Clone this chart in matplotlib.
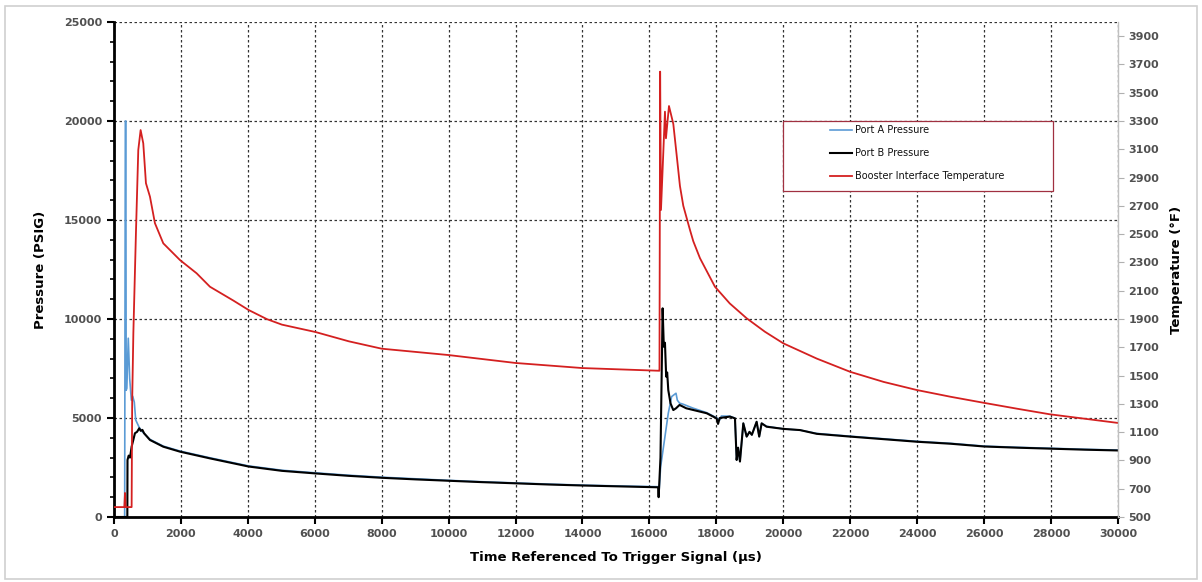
import numpy as np
import matplotlib.pyplot as plt
from matplotlib.ticker import MultipleLocator
from matplotlib.patches import Rectangle

# Port A pressure (psig) vs time (us)
port_a_t = [0, 320, 340, 355, 365, 385, 428, 470, 520, 560, 608, 650, 756, 850, 1076, 1474, 1972,
            2869, 4020, 5020, 6020, 7000, 8000, 9000, 10000, 11000, 12000, 13000, 14000, 15000,
            16260, 16290, 16335, 16464, 16563, 16663, 16794, 16833, 16900, 17000, 17300, 17710,
            18008, 18100, 18150, 18406, 18556, 18606, 18650, 18705, 18805, 18905, 18990, 19060,
            19203, 19280, 19353, 19500, 20000, 20498, 21000, 22000, 23000, 24000, 25000, 26000,
            27000, 28000, 29000, 30000]
port_a_p = [0, 0, 20000, 20000, 6400, 6500, 9030, 7000, 5900, 6100, 5800, 4900, 4520, 4300, 3920,
            3580, 3330, 2990, 2580, 2360, 2230, 2110, 2010, 1930, 1850, 1780, 1720, 1660, 1610,
            1570, 1530, 1350, 2540, 4060, 5240, 6080, 6250, 5900, 5750, 5700, 5500, 5270, 5010,
            4900, 5100, 5090, 4990, 2880, 3500, 2820, 4730, 4060, 4300, 4150, 4810, 4060, 4730,
            4580, 4450, 4390, 4220, 4080, 3950, 3820, 3720, 3580, 3520, 3470, 3420, 3380]

# Port B pressure (psig)
port_b_t = [0, 400, 405, 440, 480, 528, 580, 627, 690, 756, 800, 850, 900, 1076, 1474, 1972, 2869,
            4020, 5020, 6020, 7000, 8000, 9000, 10000, 11000, 12000, 13000, 14000, 15000, 16260,
            16275, 16330, 16394, 16430, 16464, 16500, 16530, 16563, 16630, 16713, 16794, 16900,
            17100, 17710, 18008, 18050, 18100, 18406, 18556, 18606, 18650, 18705, 18805, 18905,
            18990, 19060, 19203, 19280, 19353, 19500, 20000, 20498, 21000, 22000, 23000, 24000,
            25000, 26000, 27000, 28000, 29000, 30000]
port_b_p = [0, 0, 2880, 3100, 3000, 3550, 3900, 4230, 4300, 4480, 4350, 4400, 4230, 3890, 3550,
            3300, 2960, 2550, 2330, 2200, 2080, 1980, 1900, 1830, 1760, 1700, 1640, 1590, 1550,
            1500, 1000, 3000, 10540, 8600, 8800, 7090, 7300, 6410, 5740, 5400, 5490, 5660, 5490,
            5240, 4980, 4700, 5000, 5070, 4980, 2880, 3500, 2800, 4730, 4060, 4300, 4150, 4810,
            4060, 4730, 4560, 4450, 4390, 4200, 4060, 3930, 3800, 3700, 3560, 3500, 3450, 3400, 3360]

# Booster interface temperature (F)
temp_t = [0, 310, 330, 350, 528, 545, 580, 657, 727, 797, 876, 956, 1076, 1225, 1474, 1972, 2471,
          2869, 3570, 4020, 4570, 5020, 6020, 7020, 8000, 10000, 12000, 14000, 16285,
          16300, 16320, 16345, 16464, 16494, 16584, 16713, 16813, 16912, 17012, 17211, 17310,
          17510, 17958, 18400, 18905, 19450, 19999, 21000, 21992, 23000, 23985, 25000, 25975,
          27000, 27968, 29000, 30000]
temp_f = [570, 570, 670, 570, 570, 1327, 1801, 2508, 3095, 3236, 3142, 2860, 2765, 2577, 2435,
          2317, 2223, 2128, 2030, 1964, 1899, 1860, 1808, 1742, 1690, 1645, 1589, 1553, 1534,
          1534, 3649, 2671, 3366, 3178, 3406, 3280, 3060, 2840, 2700, 2530, 2450, 2330, 2128,
          2010, 1905, 1810, 1728, 1620, 1527, 1455, 1398, 1350, 1308, 1265, 1226, 1195, 1165]

fig = plt.figure(figsize=(12.02, 5.82), dpi=100)
fig.patches.append(Rectangle((0.004, 0.006), 0.992, 0.984, transform=fig.transFigure,
                             fill=False, edgecolor="#d0d0d0", linewidth=1.2))
ax = fig.add_axes([0.0948, 0.1117, 0.8353, 0.8505])
ax2 = ax.twinx()

l1, = ax.plot(port_a_t, port_a_p, color="#5b9bd5", lw=1.2, label="Port A Pressure")
l2, = ax.plot(port_b_t, port_b_p, color="black", lw=1.5, label="Port B Pressure")
l3, = ax2.plot(temp_t, temp_f, color="#d42020", lw=1.3, label="Booster Interface Temperature")

ax.set_xlim(0, 30000)
ax.set_ylim(0, 25000)
ax2.set_ylim(500, 4000)

ax.xaxis.set_major_locator(MultipleLocator(2000))
ax.yaxis.set_major_locator(MultipleLocator(5000))
ax.yaxis.set_minor_locator(MultipleLocator(1000))
ax2.set_yticks(np.arange(500, 4000, 200))

ax.grid(True, which="major", linestyle=(0, (2, 2)), color="#333333", linewidth=0.9)

for s in ["top", "right"]:
    ax.spines[s].set_visible(False)
for s in ["top", "left", "bottom"]:
    ax2.spines[s].set_visible(False)
ax.spines["left"].set_linewidth(2)
ax.spines["bottom"].set_linewidth(2)
ax2.spines["right"].set_color("#c0c0c0")
ax2.spines["right"].set_linewidth(1)

ax.tick_params(axis="both", which="major", direction="out", length=5, width=1.5,
               labelsize=8, labelcolor="#505050")
ax.tick_params(axis="y", which="minor", direction="out", length=3, width=1.2)
ax2.tick_params(axis="y", direction="out", length=4, width=0.8, color="#b0b0b0",
                labelsize=8, labelcolor="#505050")
for lab in ax.get_xticklabels() + ax.get_yticklabels() + ax2.get_yticklabels():
    lab.set_fontweight("bold")

ax.set_xlabel("Time Referenced To Trigger Signal (µs)", fontsize=9.5, fontweight="bold", labelpad=9)
ax.set_ylabel("Pressure (PSIG)", fontsize=9.5, fontweight="bold", labelpad=12)
ax2.set_ylabel("Temperature (°F)", fontsize=9.5, fontweight="bold", labelpad=8)

# legend box like the original (wide box, entries inset)
ax2.add_patch(Rectangle((0.666, 0.659), 0.269, 0.141, transform=ax2.transAxes,
                        fill=True, facecolor="white", edgecolor="#a03040", linewidth=0.9, zorder=5))
leg = ax2.legend(handles=[l1, l2, l3], loc="upper left", bbox_to_anchor=(0.713, 0.792),
                 frameon=False, fontsize=7, handlelength=2.3, handletextpad=0.3,
                 labelspacing=1.35, borderpad=0, borderaxespad=0)
leg.set_zorder(6)
for t in leg.get_texts():
    t.set_color("#111111")

fig.savefig("out.png", dpi=100)
